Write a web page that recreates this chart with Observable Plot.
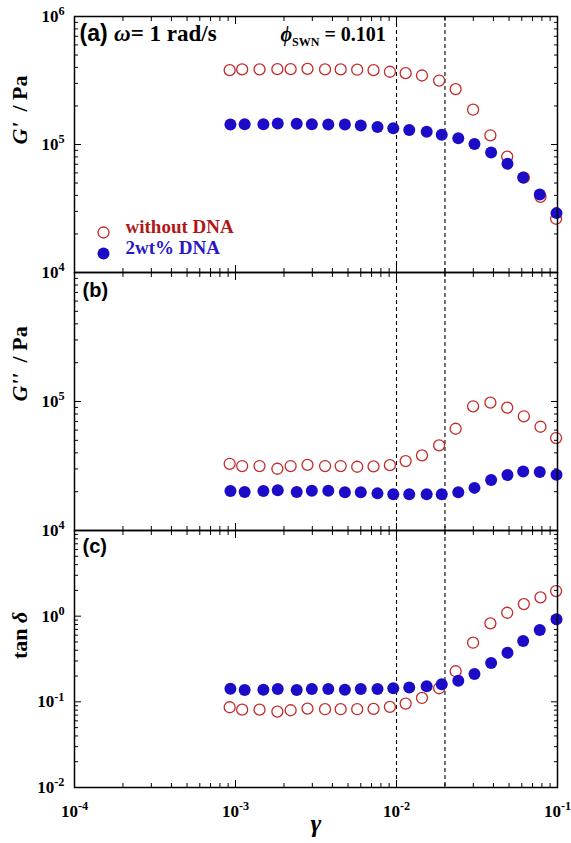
<!DOCTYPE html>
<html><head><meta charset="utf-8">
<script src="https://cdn.jsdelivr.net/npm/d3@7"></script>
<script src="https://cdn.jsdelivr.net/npm/@observablehq/plot@0.6"></script>
<style>
body{margin:0;background:#fff;}
#chart{position:relative;width:571px;height:843px;overflow:hidden;background:#fff;}
#chart svg{position:absolute;left:0;overflow:visible !important;background:none !important;}
#chart svg text{font-weight:bold;}
</style></head><body><div id="chart"></div>
<script>
// ---- data ----
const strainWithout = [0.00092,0.0011,0.00141,0.00182,0.0022,0.0028,0.0036,0.0045,0.0057,0.0072,0.0091,0.0114,0.0144,0.0184,0.0233,0.0299,0.0383,0.0487,0.0618,0.0784,0.098];
const strainDNA = [0.00093,0.00114,0.00149,0.00183,0.0024,0.00298,0.00377,0.00478,0.006,0.00762,0.00955,0.012,0.0154,0.0191,0.0242,0.0305,0.0387,0.0489,0.0612,0.0776,0.0986];
const gPrimeWithout = [3.81e5,3.86e5,3.86e5,3.88e5,3.88e5,3.90e5,3.86e5,3.86e5,3.84e5,3.81e5,3.70e5,3.61e5,3.46e5,3.16e5,2.71e5,1.87e5,1.18e5,8.05e4,5.52e4,3.90e4,2.63e4];
const gPrimeDNA = [1.43e5,1.44e5,1.44e5,1.46e5,1.45e5,1.44e5,1.43e5,1.43e5,1.41e5,1.37e5,1.34e5,1.30e5,1.26e5,1.19e5,1.12e5,1.01e5,8.65e4,7.06e4,5.52e4,4.07e4,2.91e4];
const gDoubleWithout = [3.29e4,3.16e4,3.16e4,3.01e4,3.16e4,3.23e4,3.16e4,3.16e4,3.12e4,3.14e4,3.21e4,3.45e4,3.82e4,4.57e4,6.15e4,9.18e4,9.79e4,8.96e4,7.68e4,6.37e4,5.21e4];
const gDoubleDNA = [2.02e4,1.99e4,2.02e4,2.05e4,1.99e4,2.03e4,2.03e4,1.98e4,1.98e4,1.94e4,1.91e4,1.91e4,1.91e4,1.91e4,1.98e4,2.14e4,2.46e4,2.69e4,2.87e4,2.84e4,2.70e4];
const tanWithout = [0.0865,0.0811,0.0811,0.0769,0.0798,0.0834,0.0820,0.0820,0.0820,0.0826,0.0873,0.0953,0.111,0.144,0.2275,0.490,0.824,1.096,1.384,1.656,1.965];
const tanDNA = [0.1425,0.1377,0.1387,0.1413,0.1377,0.1413,0.1413,0.1387,0.1413,0.1413,0.1442,0.1466,0.152,0.1604,0.1767,0.2114,0.284,0.374,0.513,0.689,0.918];
const dashedStrains = [0.01, 0.02];
const xDomain = [1e-4, 1e-1];
const xMajorTicks = [1e-4, 1e-3, 1e-2, 1e-1];
const legendLabels = ["without DNA", "2wt% DNA"];
const yAxisLabels = ["G'  / Pa", "G''  / Pa", "tan δ"];
const panelTitles = ["(a) ω= 1 rad/s", "(b)", "(c)"];
const phiLabel = "ϕSWN = 0.101";
const xAxisLabel = "γ";

const RED = "#c42a2a", BLUE = "#1c0cc8";
const RED_TEXT = "#b01818", BLUE_TEXT = "#2a18c4";
const SERIF = "'Liberation Serif','Times New Roman',serif";
const SANS = "'Liberation Sans',Arial,sans-serif";

function minorTicks(lo, hi) {
  const out = [];
  for (let e = Math.round(Math.log10(lo)); e < Math.round(Math.log10(hi)); e++)
    for (let k = 2; k <= 9; k++) out.push(+(k * Math.pow(10, e)).toPrecision(3));
  return out;
}
const supFmt = d => "10^" + Math.round(Math.log10(d));

const RICH = {
  "G'  / Pa": [["G'", {"font-style": "italic"}], ["  / Pa", {}]],
  "G''  / Pa": [["G''", {"font-style": "italic"}], ["  / Pa", {}]],
  "tan δ": [["tan ", {}], ["δ", {"font-style": "italic"}]],
  "(a) ω= 1 rad/s": [["(a) ", {"font-family": SANS}], ["ω", {"font-style": "italic"}], ["= 1 rad/s", {}]],
  "(b)": [["(b)", {"font-family": SANS}]],
  "(c)": [["(c)", {"font-family": SANS}]],
  "ϕSWN = 0.101": [["ϕ", {"font-style": "italic"}], ["SWN", {"font-size": "12px", "dy": "5"}], [" = 0.101", {"dy": "-5"}]]
};

function enrich(svg) {
  d3.select(svg).selectAll("text").each(function () {
    const t = this.textContent;
    const m = t.match(/^10\^(-?\d+)$/);
    const sel = d3.select(this);
    if (m) {
      sel.text("10");
      sel.append("tspan").attr("dy", "-0.55em").attr("font-size", "0.72em").text(m[1]);
    } else if (RICH[t]) {
      sel.text(null);
      for (const [s, attrs] of RICH[t]) {
        const ts = sel.append("tspan").text(s);
        for (const k in attrs) ts.attr(k, attrs[k]);
      }
    }
  });
}

function makePanel(cfg) {
  const {top, height, marginTop, marginBottom, yDomain, yLabelTicks, without, dna, yLabel, extra = [], xLabels = false} = cfg;
  const rowsW = strainWithout.map((x, i) => ({x, y: without[i]}));
  const rowsD = strainDNA.map((x, i) => ({x, y: dna[i]}));
  const yMajor = d3.range(Math.round(Math.log10(yDomain[0])), Math.round(Math.log10(yDomain[1])) + 1).map(e => Math.pow(10, e));
  const yMinor = minorTicks(yDomain[0], yDomain[1]);
  const xMinor = minorTicks(xDomain[0], xDomain[1]);
  const blank = () => "";
  const marks = [
    Plot.ruleX(dashedStrains, {x: d => d, stroke: "#000", strokeWidth: 1.1, strokeDasharray: "4,3"}),
    Plot.axisX({anchor: "bottom", ticks: xMajorTicks, tickSize: -7, tickFormat: blank, label: null}),
    Plot.axisX({anchor: "bottom", ticks: xMinor, tickSize: -4, tickFormat: blank, label: null}),
    Plot.axisX({anchor: "top", ticks: xMajorTicks, tickSize: -7, tickFormat: blank, label: null}),
    Plot.axisX({anchor: "top", ticks: xMinor, tickSize: -4, tickFormat: blank, label: null}),
    Plot.axisY({anchor: "left", ticks: yMajor, tickSize: -7, tickFormat: blank, label: null}),
    Plot.axisY({anchor: "left", ticks: yMinor, tickSize: -4, tickFormat: blank, label: null}),
    Plot.axisY({anchor: "right", ticks: yMajor, tickSize: -7, tickFormat: blank, label: null}),
    Plot.axisY({anchor: "right", ticks: yMinor, tickSize: -4, tickFormat: blank, label: null}),
    Plot.axisY({anchor: "left", ticks: yLabelTicks, tickSize: 0, tickPadding: 10, tickFormat: supFmt, fontSize: 17, fontFamily: SERIF, label: null}),
    Plot.dot(rowsW, {x: "x", y: "y", r: 5.5, stroke: RED, strokeWidth: 1.3, fill: "none"}),
    Plot.dot(rowsD, {x: "x", y: "y", r: 6, fill: BLUE, stroke: "none"}),
    Plot.frame({stroke: "#000", strokeWidth: 1.5}),
    Plot.text([yLabel], {frameAnchor: "left", dx: -55, rotate: -90, fontSize: 22, fontFamily: SERIF, lineAnchor: "middle"}),
    ...extra
  ];
  if (xLabels) {
    marks.push(Plot.axisX({anchor: "bottom", ticks: xMajorTicks, tickSize: 0, tickPadding: 17, tickFormat: supFmt, fontSize: 17, fontFamily: SERIF, label: null}));
    marks.push(Plot.text([xAxisLabel], {frameAnchor: "bottom", dy: 44, fontSize: 26, fontStyle: "italic", fontFamily: SERIF}));
  }
  const svg = Plot.plot({
    width: 571, height, marginLeft: 74, marginRight: 14, marginTop, marginBottom,
    x: {type: "log", domain: xDomain, label: null},
    y: {type: "log", domain: yDomain, label: null},
    style: {fontFamily: SERIF, fontSize: "15px", overflow: "visible", background: "none"},
    marks
  });
  svg.style.top = top + "px";
  enrich(svg);
  return svg;
}

const chart = document.getElementById("chart");

const panelAExtra = [
  Plot.text([panelTitles[0]], {frameAnchor: "top-left", dx: 5, dy: 24, textAnchor: "start", lineAnchor: "bottom", fontSize: 23, fontFamily: SERIF}),
  Plot.text([phiLabel], {frameAnchor: "top-left", dx: 206, dy: 24, textAnchor: "start", lineAnchor: "bottom", fontSize: 20, fontFamily: SERIF}),
  Plot.dot([legendLabels[0]], {frameAnchor: "bottom-left", dx: 29, dy: -40, r: 5.5, stroke: RED, strokeWidth: 1.3, fill: "none"}),
  Plot.dot([legendLabels[1]], {frameAnchor: "bottom-left", dx: 29, dy: -19, r: 6, fill: BLUE, stroke: "none"}),
  Plot.text([legendLabels[0]], {frameAnchor: "bottom-left", dx: 51, dy: -40, textAnchor: "start", fill: RED_TEXT, fontSize: 19, fontFamily: SERIF}),
  Plot.text([legendLabels[1]], {frameAnchor: "bottom-left", dx: 51, dy: -19, textAnchor: "start", fill: BLUE_TEXT, fontSize: 19, fontFamily: SERIF})
];
const panelBExtra = [
  Plot.text([panelTitles[1]], {frameAnchor: "top-left", dx: 8, dy: 24, textAnchor: "start", lineAnchor: "bottom", fontSize: 20, fontFamily: SERIF})
];
const panelCExtra = [
  Plot.text([panelTitles[2]], {frameAnchor: "top-left", dx: 8, dy: 22, textAnchor: "start", lineAnchor: "bottom", fontSize: 20, fontFamily: SERIF})
];

chart.appendChild(makePanel({top: 530, height: 313, marginTop: 0, marginBottom: 56, yDomain: [1e-2, 1e1], yLabelTicks: [1e-2, 1e-1, 1e0], without: tanWithout, dna: tanDNA, yLabel: yAxisLabels[2], extra: panelCExtra, xLabels: true}));
chart.appendChild(makePanel({top: 272, height: 258, marginTop: 0, marginBottom: 0, yDomain: [1e4, 1e6], yLabelTicks: [1e4, 1e5], without: gDoubleWithout, dna: gDoubleDNA, yLabel: yAxisLabels[1], extra: panelBExtra}));
chart.appendChild(makePanel({top: 0, height: 272, marginTop: 16, marginBottom: 0, yDomain: [1e4, 1e6], yLabelTicks: [1e4, 1e5, 1e6], without: gPrimeWithout, dna: gPrimeDNA, yLabel: yAxisLabels[0], extra: panelAExtra}));
</script></body></html>
